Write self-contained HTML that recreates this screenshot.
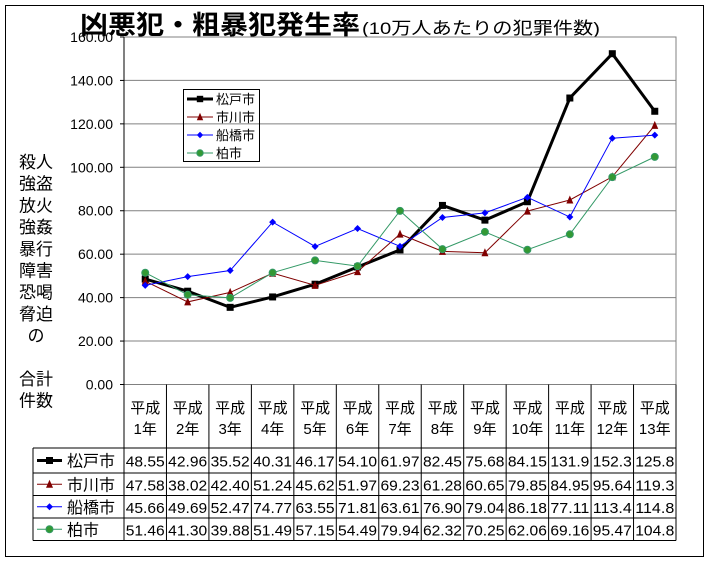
<!DOCTYPE html>
<html><head><meta charset="utf-8">
<style>
html,body{margin:0;padding:0;background:#fff;width:710px;height:563px;overflow:hidden}
svg{display:block}
text{font-family:"Liberation Sans","Noto Sans CJK JP",sans-serif}
</style></head>
<body>
<svg id="c" width="710" height="563" xmlns="http://www.w3.org/2000/svg">
<rect x="5.5" y="5.5" width="698" height="551" fill="#fff" stroke="#000" stroke-width="1"/>
<text x="80" y="34" font-size="26" font-weight="bold" textLength="280" lengthAdjust="spacingAndGlyphs">凶悪犯・粗暴犯発生率</text>
<text x="362" y="34" font-size="17" textLength="238" lengthAdjust="spacingAndGlyphs">(10万人あたりの犯罪件数)</text>
<g id="g"></g>
</svg>
<script>
const NS="http://www.w3.org/2000/svg",g=document.getElementById('g');
function el(t,a,txt){const e=document.createElementNS(NS,t);for(const k in a)e.setAttribute(k,a[k]);if(txt!==undefined)e.textContent=txt;g.appendChild(e);return e;}
const L=124,R=676,T=37,B=384.5,cw=(R-L)/13;
const Y=v=>B-v*2.172, X=i=>L+cw*(i+0.5);
for(let v=20;v<=140;v+=20)el('line',{x1:L,x2:R,y1:Y(v),y2:Y(v),stroke:'#808080','stroke-width':1});
el('rect',{x:L,y:T,width:R-L,height:B-T,fill:'none',stroke:'#808080'});
el('line',{x1:L,x2:L,y1:T,y2:B,stroke:'#000'});
for(let v=0;v<=160;v+=20){el('text',{x:113,y:Y(v)+5,'font-size':14,'text-anchor':'end'},v.toFixed(2));el('line',{x1:L-4,x2:L,y1:Y(v),y2:Y(v),stroke:'#000'});}
const yl=['殺人','強盗','放火','強姦','暴行','障害','恐喝','脅迫','の','','合計','件数'];
yl.forEach((s,i)=>{if(s)el('text',{x:36,y:168+i*21.7,'font-size':17,'text-anchor':'middle'},s);});
const rows=[
['松戸市','#000',3,'sq',[48.55,42.96,35.52,40.31,46.17,54.10,61.97,82.45,75.68,84.15,131.9,152.3,125.8]],
['市川市','#800000',1,'tri',[47.58,38.02,42.40,51.24,45.62,51.97,69.23,61.28,60.65,79.85,84.95,95.64,119.3]],
['船橋市','#0000ff',1,'dia',[45.66,49.69,52.47,74.77,63.55,71.81,63.61,76.90,79.04,86.18,77.11,113.4,114.8]],
['柏市','#339966',1,'cir',[51.46,41.30,39.88,51.49,57.15,54.49,79.94,62.32,70.25,62.06,69.16,95.47,104.8]]];
const rl=[448,473,495.5,518,540.5];
for(let i=0;i<=13;i++)el('line',{x1:L+cw*i,x2:L+cw*i,y1:B,y2:540.5,stroke:'#000'});
rl.forEach(y=>el('line',{x1:33,x2:R,y1:y,y2:y,stroke:'#000'}));
el('line',{x1:33,x2:33,y1:448,y2:540.5,stroke:'#000'});
for(let i=0;i<13;i++){el('text',{x:X(i),y:413,'font-size':15,'text-anchor':'middle'},'平成');el('text',{x:X(i),y:434,'font-size':15,'text-anchor':'middle'},(i+1)+'年');}
function marker(t,x,y,c,s){
 if(t=='sq')el('rect',{x:x-s,y:y-s,width:2*s,height:2*s,fill:c});
 else if(t=='tri')el('polygon',{points:`${x},${y-s-1} ${x-s},${y+s} ${x+s},${y+s}`,fill:c});
 else if(t=='dia')el('polygon',{points:`${x},${y-s} ${x+s},${y} ${x},${y+s} ${x-s},${y}`,fill:c});
 else el('circle',{cx:x,cy:y,r:s,fill:'#339933',stroke:c,'stroke-width':1});
}
rows.forEach((r,ri)=>{
 const [n,c,w,m,d]=r;
 el('polyline',{points:d.map((v,i)=>X(i)+','+Y(v)).join(' '),fill:'none',stroke:c,'stroke-width':w,'stroke-linejoin':'miter'});
 d.forEach((v,i)=>marker(m,X(i),Y(v),c,3.5));
 const cy=(rl[ri]+rl[ri+1])/2;
 el('line',{x1:37,x2:62,y1:cy,y2:cy,stroke:c,'stroke-width':w});
 marker(m,49.5,cy,c,3.5);
 el('text',{x:67,y:cy+6,'font-size':16},n);
 d.forEach((v,i)=>el('text',{x:X(i),y:cy+6,'font-size':15,'text-anchor':'middle',textLength:39,lengthAdjust:'spacingAndGlyphs'},v.toFixed(v>=100?1:2)));
 const ly=99+ri*18;
 el('line',{x1:187,x2:213,y1:ly,y2:ly,stroke:c,'stroke-width':w});
 marker(m,200,ly,c,3.2);
 el('text',{x:216,y:ly+5,'font-size':13},n);
});
el('rect',{x:183.5,y:89.5,width:76,height:72,fill:'none',stroke:'#000'});
</script>
</body></html>
